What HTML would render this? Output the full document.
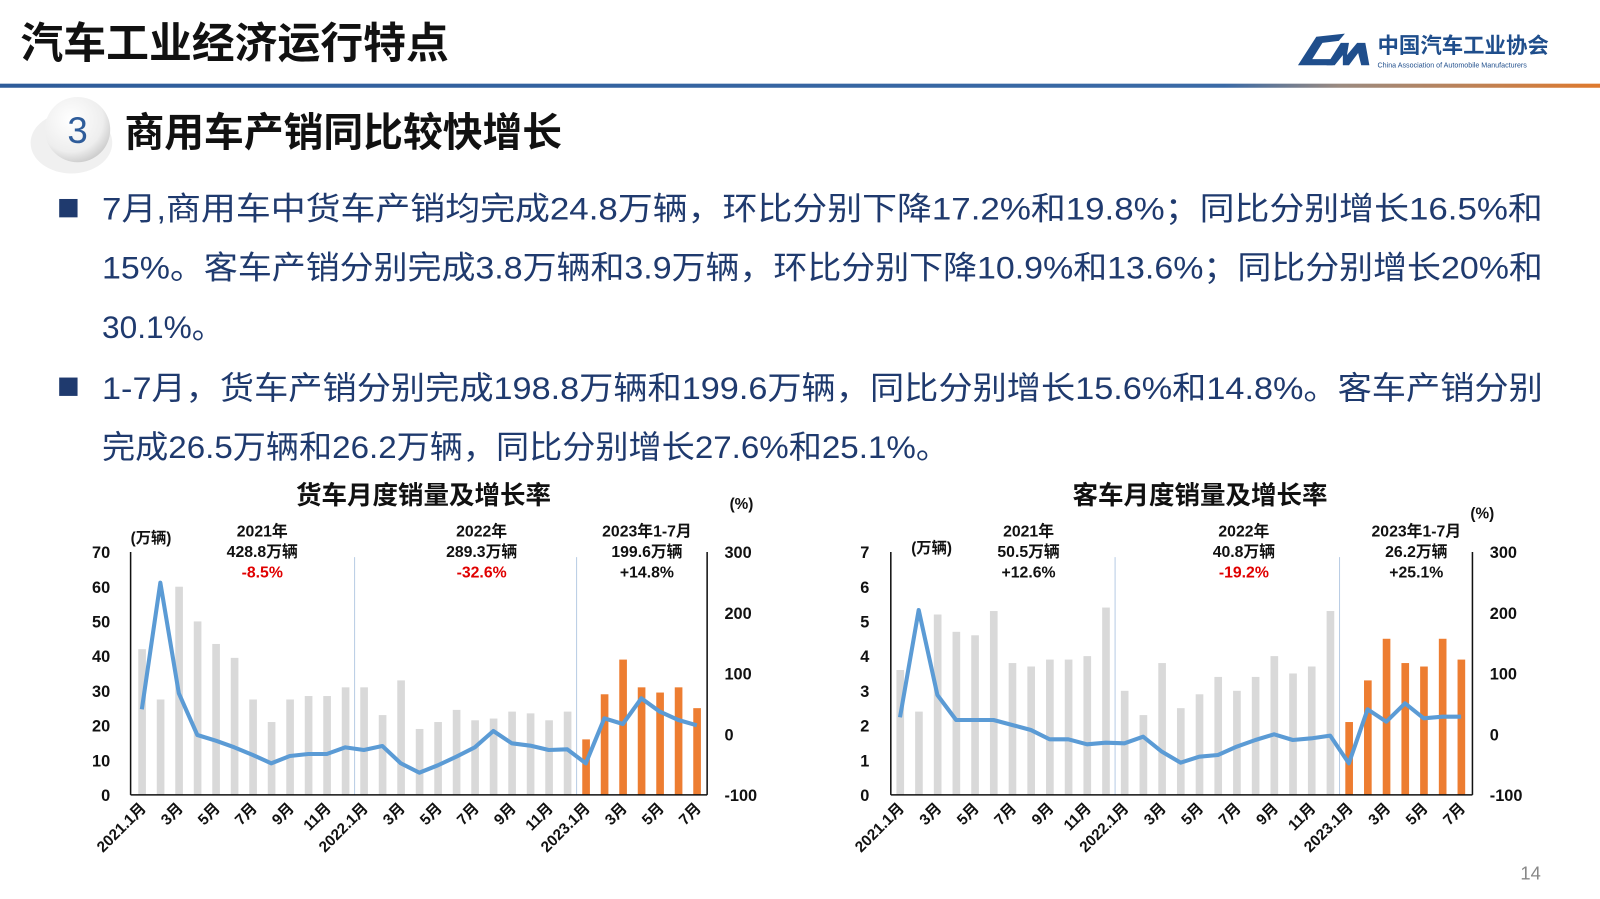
<!DOCTYPE html>
<html><head><meta charset="utf-8"><style>
html,body{margin:0;padding:0;background:#fff;}
svg{display:block;font-family:"Liberation Sans","Noto Sans CJK SC",sans-serif;}
</style></head><body>
<svg id="s" width="1600" height="899" viewBox="0 0 1600 899" xmlns="http://www.w3.org/2000/svg">
<defs>
<linearGradient id="hl" x1="0" x2="1"><stop offset="0" stop-color="#2e5c9a"/><stop offset="0.75" stop-color="#3a6aa6"/><stop offset="0.82" stop-color="#9a8a80"/><stop offset="1" stop-color="#e87722"/></linearGradient>
<radialGradient id="cg" cx="0.4" cy="0.35" r="0.7"><stop offset="0" stop-color="#ffffff"/><stop offset="0.7" stop-color="#eeeeee"/><stop offset="1" stop-color="#c8c8c8"/></radialGradient>
</defs>
<g transform="scale(1.0204)">
<text x="20" y="57" font-size="42" font-weight="bold" fill="#111">汽车工业经济运行特点</text>
<rect x="0" y="82" width="1600" height="4" fill="url(#hl)"/>
<path d="M1272 64 L1290 36 L1318 33 L1312 40 L1296 42 L1286 58 L1310 58 L1306 64 Z" fill="#1f4e8c"/>
<path d="M1300 64 L1314 42 L1322 42 L1320 54 L1330 42 L1338 42 L1342 64 L1334 64 L1331 52 L1322 64 L1316 64 L1316 54 L1308 64 Z" fill="#1f4e8c"/>
<text x="1350" y="52" font-size="21" font-weight="bold" fill="#1f4e8c">中国汽车工业协会</text>
<text x="1350" y="66" font-size="7" fill="#1f4e8c">China Association of Automobile Manufacturers</text>
<ellipse cx="70" cy="140" rx="40" ry="30" fill="#e6e6e6" opacity="0.6"/>
<circle cx="76" cy="127" r="32" fill="url(#cg)"/>
<text x="76" y="140" font-size="36" fill="#2e5c9a" text-anchor="middle">3</text>
<text x="122" y="143" font-size="39" font-weight="bold" fill="#111">商用车产销同比较快增长</text>
<g font-size="31" fill="#1f3a6e">
<rect x="58" y="195" width="18" height="18" fill="#1f3a6e"/>
<text x="100" y="215" textLength="1412" lengthAdjust="spacingAndGlyphs">7月,商用车中货车产销均完成24.8万辆，环比分别下降17.2%和19.8%；同比分别增长16.5%和</text>
<text x="100" y="273" textLength="1412" lengthAdjust="spacingAndGlyphs">15%。客车产销分别完成3.8万辆和3.9万辆，环比分别下降10.9%和13.6%；同比分别增长20%和</text>
<text x="100" y="331">30.1%。</text>
<rect x="58" y="370" width="18" height="18" fill="#1f3a6e"/>
<text x="100" y="391" textLength="1412" lengthAdjust="spacingAndGlyphs">1-7月，货车产销分别完成198.8万辆和199.6万辆，同比分别增长15.6%和14.8%。客车产销分别</text>
<text x="100" y="449" textLength="830" lengthAdjust="spacingAndGlyphs">完成26.5万辆和26.2万辆，同比分别增长27.6%和25.1%。</text>
</g>
<text x="1490" y="862" font-size="18" fill="#888">14</text>
<g id="charts"></g>
</g>
</svg>
<script>
const NS="http://www.w3.org/2000/svg";
const g=document.getElementById('charts');
function el(t,a,txt){const e=document.createElementNS(NS,t);for(const k in a)e.setAttribute(k,a[k]);if(txt!=null)e.textContent=txt;g.appendChild(e);return e;}
function chart(o){
 const base=779, top=541;
 o.ll.forEach((l,i)=>el('text',{x:o.llx,y:base-i*34+6,'font-size':16,'font-weight':'bold','text-anchor':'end',fill:'#111'},l));
 ['-100','0','100','200','300'].forEach((l,i)=>el('text',{x:o.rlx,y:779-i*59.5+6,'font-size':16,'font-weight':'bold',fill:'#111'},l));
 [11.5,23.5].forEach(k=>el('line',{x1:o.x0+k*o.dx,x2:o.x0+k*o.dx,y1:base,y2:top+5,stroke:'#b8cce4','stroke-width':1}));
 o.bars.forEach((v,i)=>{const h=v*o.scale;el('rect',{x:o.x0+i*o.dx-3.5,y:base-h,width:7.5,height:h,fill:i>=24?'#ed7d31':'#d9d9d9'});});
 el('polyline',{points:o.line.map((y,i)=>(o.x0+i*o.dx)+','+((500+y/3)/1.0204)).join(' '),fill:'none',stroke:'#5b9bd5','stroke-width':4,'stroke-linejoin':'round'});
 el('line',{x1:o.ax,x2:o.ax,y1:top,y2:base,stroke:'#111','stroke-width':1.5});
 el('line',{x1:o.rax,x2:o.rax,y1:top,y2:base,stroke:'#111','stroke-width':1.5});
 el('line',{x1:o.ax,x2:o.rax,y1:base,y2:base,stroke:'#111','stroke-width':1.5});
 const labs=['2021.1月','3月','5月','7月','9月','11月','2022.1月','3月','5月','7月','9月','11月','2023.1月','3月','5月','7月'];
 labs.forEach((l,j)=>{const x=o.x0+j*2*o.dx+5,y=793;el('text',{x:x,y:y,'font-size':15,'font-weight':'bold','text-anchor':'end',fill:'#111',transform:`rotate(-45 ${x} ${y})`},l);});
 el('text',{x:o.tx,y:494,'font-size':25,'font-weight':'bold','text-anchor':'middle',fill:'#111'},o.title);
 el('text',{x:o.ux,y:o.uy,'font-size':15,'font-weight':'bold',fill:'#111'},'(万辆)');
 el('text',{x:o.px,y:o.py,'font-size':15,'font-weight':'bold',fill:'#111'},'(%)');
 o.ann.forEach(a=>{a.t.forEach((t,k)=>el('text',{x:a.x,y:526+k*20,'font-size':15.5,'font-weight':'bold','text-anchor':'middle',fill:(k==2&&t[0]=='-')?'#e00000':'#111'},t));});
}
chart({llx:108,rlx:710,ax:128,rax:693,x0:139,dx:18.13,scale:3.4,
 ll:['0','10','20','30','40','50','60','70'],
 bars:[42,27.5,60,50,43.5,39.5,27.5,21,27.5,28.5,28.5,31,31,23,33,19,21,24.5,21.5,22,24,23.5,21.5,24,16,29,39,31,29.5,31,25],
 line:[628,248,580,705,722,742,765,790,768,762,762,742,750,738,790,818,796,770,742,693,730,737,750,748,790,655,672,595,635,660,676],
 tx:415,title:'货车月度销量及增长率',ux:128,uy:532,px:715,py:499,
 ann:[{x:257,t:['2021年','428.8万辆','-8.5%']},{x:472,t:['2022年','289.3万辆','-32.6%']},{x:634,t:['2023年1-7月','199.6万辆','+14.8%']}]});
chart({llx:852,rlx:1460,ax:873,rax:1443,x0:882,dx:18.33,scale:34,
 ll:['0','1','2','3','4','5','6','7'],
 bars:[3.6,2.4,5.2,4.7,4.6,5.3,3.8,3.7,3.9,3.9,4.0,5.4,3.0,2.3,3.8,2.5,2.9,3.4,3.0,3.4,4.0,3.5,3.7,5.3,2.1,3.3,4.5,3.8,3.7,4.5,3.9],
 line:[652,330,585,660,660,660,675,690,718,718,733,728,730,710,755,788,770,765,740,720,703,720,715,707,790,628,665,610,655,650,650],
 tx:1176,title:'客车月度销量及增长率',ux:893,uy:542,px:1441,py:508,
 ann:[{x:1008,t:['2021年','50.5万辆','+12.6%']},{x:1219,t:['2022年','40.8万辆','-19.2%']},{x:1388,t:['2023年1-7月','26.2万辆','+25.1%']}]});
</script>
</body></html>
